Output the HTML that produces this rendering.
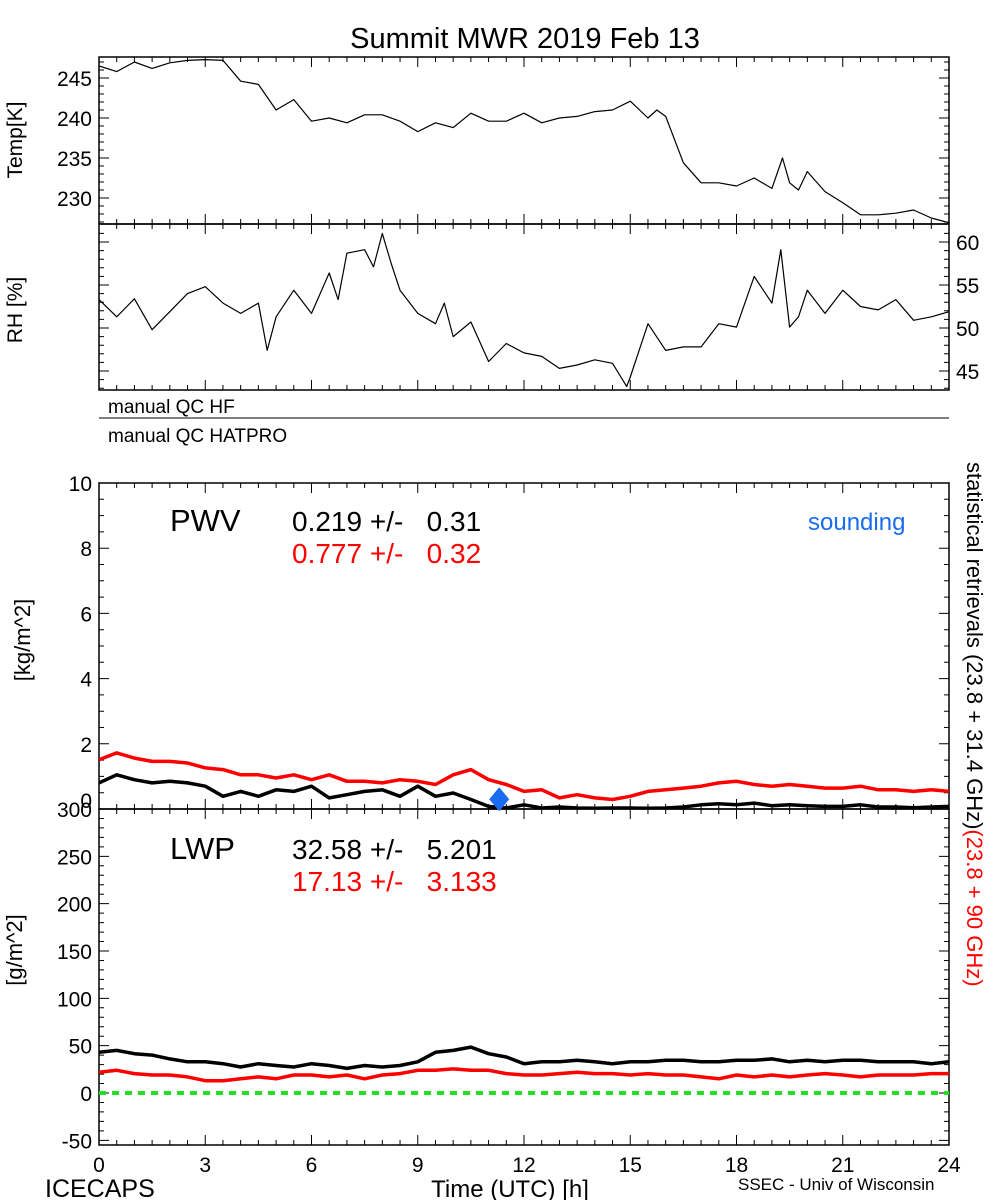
<!DOCTYPE html>
<html><head><meta charset="utf-8"><style>
body{margin:0;background:#fff;}
svg{display:block;font-family:"Liberation Sans",sans-serif;}
</style></head><body>
<svg id="chart" width="1000" height="1200" viewBox="0 0 1000 1200">
<text x="525" y="48" font-size="29" text-anchor="middle">Summit MWR 2019 Feb 13</text>
<g id="g"></g>
</svg>
<script>
const hours=[];for(let i=0;i<=48;i++)hours.push(i*0.5);
const tempHours=[0,0.5,1,1.5,2,2.5,3,3.5,4,4.5,5,5.5,6,6.5,7,7.5,8,8.5,9,9.5,10,10.5,11,11.5,12,12.5,13,13.5,14,14.5,15,15.5,15.75,16,16.5,17,17.5,18,18.5,19,19.3,19.5,19.75,20,20.5,21,21.5,22,22.5,23,23.5,24];
const tempVals=[246.5,245.8,247,246.2,246.9,247.2,247.3,247.2,244.6,244.2,241,242.3,239.6,240,239.4,240.4,240.4,239.6,238.3,239.4,238.8,240.6,239.6,239.6,240.6,239.4,240,240.2,240.8,241,242.1,240,241,240.2,234.4,231.9,231.9,231.5,232.5,231.2,235,231.9,231,233.3,230.8,229.4,227.9,227.9,228.1,228.5,227.5,226.9];
const rhHours=[0,0.5,1,1.5,2,2.5,3,3.5,4,4.5,4.75,5,5.5,6,6.5,6.75,7,7.5,7.75,8,8.25,8.5,9,9.5,9.75,10,10.5,11,11.5,12,12.5,13,13.5,14,14.5,14.9,15,15.5,16,16.5,17,17.5,18,18.5,19,19.25,19.5,19.75,20,20.5,21,21.5,22,22.5,23,23.5,24];
const rhVals=[53.3,51.3,53.4,49.8,51.9,54,54.8,52.9,51.7,52.9,47.4,51.3,54.4,51.7,56.4,53.3,58.7,59.1,57.1,61,57.5,54.4,51.7,50.5,52.9,49,50.7,46.1,48.2,47.1,46.7,45.3,45.7,46.3,45.9,43.2,44.3,50.5,47.4,47.8,47.8,50.5,50.1,56,52.9,59.1,50.1,51.3,54.4,51.7,54.4,52.5,52.1,53.3,50.9,51.3,51.9];
const pwvRedZ=[120,100,115,125,125,130,145,150,165,165,175,165,180,165,185,185,190,180,185,195,165,150,180,195,215,210,235,225,235,240,230,215,210,205,200,190,185,195,200,195,200,205,205,200,210,210,215,210,215];
const pwvBlackZ=[190,165,180,190,185,190,200,230,215,230,210,215,200,235,225,215,210,230,200,230,220,240,260,265,255,265,262,265,266,265,265,266,265,262,255,252,255,250,258,255,258,260,260,255,262,262,264,262,260];
const pwvRed=pwvRedZ.map(z=>+((268-z)/97.8).toFixed(2));
const pwvBlack=pwvBlackZ.map(z=>+((268-z)/97.8).toFixed(2));
const lwpBlack=[43,45,41.5,40,36,33,33,31,27.5,31,29,27.5,31,29,26,29,27.5,29,33,43,45,48.5,41.5,38,31,33,33,34.5,33,31,33,33,34.5,34.5,33,33,34.5,34.5,36,33,34.5,33,34.5,34.5,33,33,33,31,33];
const lwpRed=[22,24,20.5,19,19,17,13,13,15,17,15,19,19,17,19,15,19,20.5,24,24,25.5,24,24,20.5,19,19,20.5,22,20.5,20.5,19,20.5,19,19,17,15,19,17,19,17,19,20.5,19,17,19,19,19,20.5,20.5];
const soundingHour=[11.3];const soundingPwv=[0.3];
const xTicks=[0,3,6,9,12,15,18,21,24];
const tempTicks=[230,235,240,245];
const rhTicks=[45,50,55,60];
const pwvTicks=[0,2,4,6,8,10];
const lwpTicks=[-50,0,50,100,150,200,250,300];

const NS="http://www.w3.org/2000/svg";const G=document.getElementById('g');
const X0=99,X1=949;const xs=h=>X0+(X1-X0)*h/24;
function mk(t,a,p){const e=document.createElementNS(NS,t);for(const k in a)e.setAttribute(k,a[k]);(p||G).appendChild(e);return e;}
function lin(d0,d1,r0,r1){return v=>r0+(v-d0)*(r1-r0)/(d1-d0);}
const yT=lin(245,230,78,198),yR=lin(60,45,242,371),yP=lin(0,10,809,483),yL=lin(0,300,1093,809);

function frame(name,top,bot){
  const r=mk('rect',{x:X0,y:top,width:X1-X0,height:bot-top,fill:'none',stroke:'#000','stroke-width':1.5});
  
  
  for(let i=0;i<=48;i++){const x=xs(i*0.5),L=(i%6==0)?10:5;
    const t=mk('path',{d:`M${x},${top}v${L}M${x},${bot}v${-L}`,stroke:'#000','stroke-width':1});
    
    }
}
function yticks(name,ticks,f,minor,top,bot){
  const all=[];const st=ticks[1]-ticks[0];
  for(let v=ticks[0]-st;v<=ticks[ticks.length-1]+st+1e-9;v+=st/minor)all.push(v);
  all.forEach(v=>{const y=f(v);if(y<top+1||y>bot-1)return;
    const q=(v-ticks[0])/st;const L=Math.abs(Math.round(q)-q)<1e-6?10:5;
    const t=mk('path',{d:`M${X0},${y}h${L}M${X1},${y}h${-L}`,stroke:'#000'});
    
    });
}
function clipRect(id,top,bot){const c=mk('clipPath',{id:id});mk('rect',{x:X0,y:top,width:X1-X0,height:bot-top},c);}
function line(name,hs,vs,f,col,w,clip){
  const d=hs.map((h,i)=>(i?'L':'M')+xs(h).toFixed(1)+','+f(vs[i]).toFixed(1)).join('');
  const p=mk('path',{d:d,fill:'none',stroke:col,'stroke-width':w,'clip-path':'url(#'+clip+')','stroke-linejoin':'round'});
  
  
}
function txt(name,s,x,y,size,attrs){const t=mk('text',Object.assign({x:x,y:y,'font-size':size},attrs||{}));t.textContent=s;
  
  return t;}

clipRect('cT',57,224);clipRect('cR',224,390);clipRect('cP',483,809);clipRect('cL',809,1145);
frame('temp-panel',57,224);frame('rh-panel',224,390);frame('pwv-panel',483,809);frame('lwp-panel',809,1145);
yticks('temp',tempTicks,yT,5,57,224);yticks('rh',rhTicks,yR,5,224,390);yticks('pwv',pwvTicks,yP,4,483,809);yticks('lwp',lwpTicks,yL,5,809,1145);

tempTicks.forEach(v=>txt('temp-tick-label',String(v),92,yT(v)+8,21,{'text-anchor':'end'}));
rhTicks.forEach(v=>txt('rh-tick-label',String(v),956,yR(v)+8,21));
pwvTicks.forEach(v=>txt('pwv-tick-label',String(v),92,yP(v)+(v==0?-1:8),21,{'text-anchor':'end'}));
lwpTicks.forEach(v=>txt('lwp-tick-label',String(v),92,yL(v)+8,21,{'text-anchor':'end'}));
xTicks.forEach(h=>txt('x-tick-label',String(h),xs(h),1172,21,{'text-anchor':'middle'}));

txt('temp-axis-title','Temp[K]',22,140,21,{'text-anchor':'middle',transform:'rotate(-90 22 140)'});
txt('rh-axis-title','RH [%]',22,310,21,{'text-anchor':'middle',transform:'rotate(-90 22 310)'});
txt('pwv-axis-title','[kg/m^2]',30,640,22,{'text-anchor':'middle',transform:'rotate(-90 30 640)'});
txt('lwp-axis-title','[g/m^2]',22,950,22,{'text-anchor':'middle',transform:'rotate(-90 22 950)'});

line('temp-line',tempHours,tempVals,yT,'#000',1.2,'cT');
line('rh-line',rhHours,rhVals,yR,'#000',1.2,'cR');
line('pwv-red-line',hours,pwvRed,yP,'#f00',3.5,'cP');
line('pwv-black-line',hours,pwvBlack,yP,'#000',3.5,'cP');
line('lwp-black-line',hours,lwpBlack,yL,'#000',3.5,'cL');
line('lwp-red-line',hours,lwpRed,yL,'#f00',3.5,'cL');
const zl=mk('line',{x1:X0,x2:X1,y1:yL(0),y2:yL(0),stroke:'#22e022','stroke-width':4,'stroke-dasharray':'7 6'});


soundingHour.forEach((h,i)=>{const x=xs(h),y=yP(soundingPwv[i]);
  const d=mk('path',{d:`M${x},${y-12}L${x+10},${y}L${x},${y+12}L${x-10},${y}Z`,fill:'#1a6cf0'});
  
  });

txt('qc-hf-label','manual QC HF',108,413,19);
const ql=mk('line',{x1:X0,x2:X1,y1:418,y2:418,stroke:'#000'});


txt('qc-hatpro-label','manual QC HATPRO',108,442,19);

txt('pwv-label','PWV',170,531,31);
txt('pwv-stat-black','0.219 +/-   0.31',292,531,28,{style:'white-space:pre'});
txt('pwv-stat-red','0.777 +/-   0.32',292,563,28,{fill:'#f00',style:'white-space:pre'});
txt('sounding-label','sounding',808,530,24,{fill:'#1a6cf0'});
txt('lwp-label','LWP',170,859,31);
txt('lwp-stat-black','32.58 +/-   5.201',292,859,28,{style:'white-space:pre'});
txt('lwp-stat-red','17.13 +/-   3.133',292,891,28,{fill:'#f00',style:'white-space:pre'});

const rt=txt('right-retrieval-label','',967,462,22,{transform:'rotate(90 967 462)'});
const s1=mk('tspan',{},rt);s1.textContent='statistical retrievals (23.8 + 31.4 GHz)';
const s2=mk('tspan',{fill:'#f00'},rt);s2.textContent='(23.8 + 90 GHz)';

txt('icecaps-label','ICECAPS',45,1197,25);
txt('x-axis-title','Time (UTC) [h]',510,1197,24,{'text-anchor':'middle'});
txt('ssec-label','SSEC - Univ of Wisconsin',738,1190,17);
</script>
</body></html>
